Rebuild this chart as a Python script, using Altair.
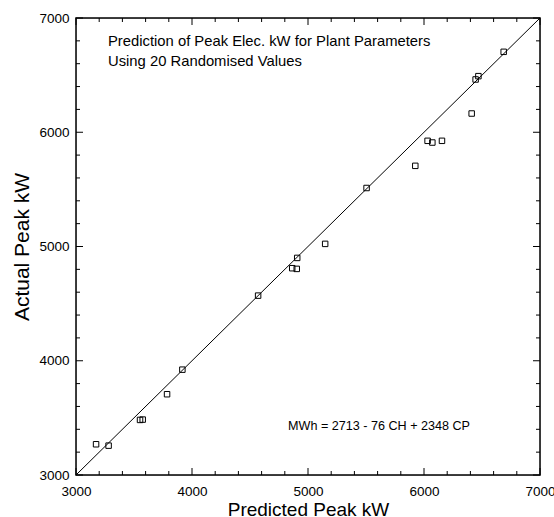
import altair as alt
import pandas as pd

# Predicted vs actual peak electrical demand (kW) for 20 randomised plant parameter sets
predicted_kw = [3173, 3281, 3552, 3575, 3785, 3917, 4570, 4864, 4903, 4907,
                5148, 5505, 5925, 6031, 6072, 6155, 6411, 6445, 6469, 6687]
actual_kw = [3269, 3257, 3482, 3485, 3707, 3922, 4570, 4810, 4804, 4900,
             5023, 5512, 5706, 5925, 5910, 5925, 6164, 6462, 6491, 6704]

# Line of perfect agreement
identity_ends = [3000, 7000]

# Axis ticks (major labelled, minor unlabelled)
major_ticks = [3000, 4000, 5000, 6000, 7000]
minor_ticks = [3200, 3400, 3600, 3800, 4200, 4400, 4600, 4800, 5200, 5400,
               5600, 5800, 6200, 6400, 6600, 6800]

title_line_1 = "Prediction of Peak Elec. kW for Plant Parameters"
title_line_2 = "Using 20 Randomised Values"
equation = "MWh = 2713 - 76 CH + 2348 CP"

W, H = 464, 457
FONT = "Liberation Sans"
MAJOR_LEN, MINOR_LEN = 7, 4

dom = [3000, 7000]
xs = alt.Scale(domain=dom, nice=False, zero=False)
ys = alt.Scale(domain=dom, nice=False, zero=False)

points_df = pd.DataFrame({"pred": predicted_kw, "act": actual_kw})
line_df = pd.DataFrame({"pred": identity_ends, "act": identity_ends})
major_df = pd.DataFrame({"v": major_ticks})
minor_df = pd.DataFrame({"v": minor_ticks})

x_axis = alt.Axis(values=major_ticks, format="d", grid=False, ticks=False,
                  domain=False, labelFont=FONT, labelFontSize=13.5,
                  labelColor="black", labelPadding=9, labelFlush=False,
                  title="Predicted Peak kW", titleFont=FONT, titleFontSize=19,
                  titleFontWeight="normal", titleColor="black", titlePadding=3)
y_axis = alt.Axis(values=major_ticks, format="d", grid=False, ticks=False,
                  domain=False, labelFont=FONT, labelFontSize=13.5,
                  labelColor="black", labelPadding=7, labelFlush=False,
                  title="Actual Peak kW", titleFont=FONT, titleFontSize=21,
                  titleFontWeight="normal", titleColor="black", titlePadding=6)

pts = alt.Chart(points_df).mark_square(
    filled=False, size=30, color="black", strokeWidth=1, opacity=1
).encode(
    x=alt.X("pred:Q", scale=xs, axis=x_axis),
    y=alt.Y("act:Q", scale=ys, axis=y_axis),
)

diag = alt.Chart(line_df).mark_line(color="black", strokeWidth=1).encode(
    x=alt.X("pred:Q", scale=xs, axis=x_axis),
    y=alt.Y("act:Q", scale=ys, axis=y_axis),
)


def ticks(df, length):
    """Inward-pointing ticks on all four sides of the frame."""
    tick = alt.Chart(df).mark_rule(color="black", strokeWidth=1)
    xv = alt.X("v:Q", scale=xs)
    yv = alt.Y("v:Q", scale=ys)
    return [
        tick.encode(x=xv, y=alt.value(H), y2=alt.value(H - length)),
        tick.encode(x=xv, y=alt.value(0), y2=alt.value(length)),
        tick.encode(y=yv, x=alt.value(0), x2=alt.value(length)),
        tick.encode(y=yv, x=alt.value(W), x2=alt.value(W - length)),
    ]


frame = alt.Chart(pd.DataFrame({"k": [0]})).mark_rect(
    filled=False, stroke="black", strokeWidth=1.5
).encode(x=alt.value(0), x2=alt.value(W), y=alt.value(0), y2=alt.value(H))


def label(text, x, y, size):
    return alt.Chart(pd.DataFrame({"t": [text]})).mark_text(
        align="left", baseline="alphabetic", font=FONT, fontSize=size, color="black"
    ).encode(x=alt.value(x), y=alt.value(y), text="t:N")


chart = alt.layer(
    pts, diag, *ticks(major_df, MAJOR_LEN), *ticks(minor_df, MINOR_LEN), frame,
    label(title_line_1, 32, 28, 14.8),
    label(title_line_2, 32, 47.5, 14.8),
    label(equation, 212, 412, 12.6),
).properties(
    width=W, height=H,
    autosize=alt.AutoSizeParams(type="none"),
    padding={"left": 76, "top": 18, "right": 14, "bottom": 42},
).configure_view(stroke=None).configure(background="white")

chart.save("out.html", embed_options={"renderer": "svg", "actions": False})
